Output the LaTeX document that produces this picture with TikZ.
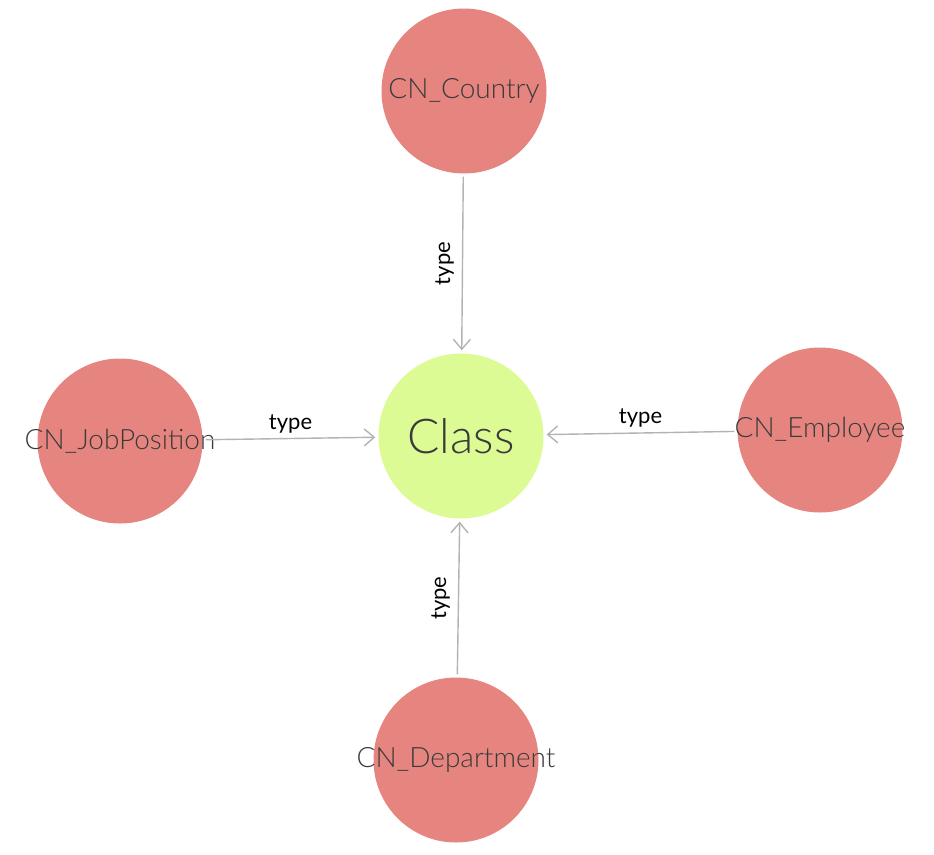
\documentclass[tikz,border=0pt]{standalone}
\usepackage{fontspec}
\setmainfont{Lato Light}
\newfontfamily\lblfont{Lato}
\usetikzlibrary{arrows.meta}

\newcommand{\nodetext}[1]{\makebox[0pt]{#1}}

\begin{document}
\begin{tikzpicture}[x=1pt,y=-1pt,
    cls/.style={circle,fill=classcolor,minimum size=165pt,inner sep=0pt,
      text=textcolor,font=\fontsize{48}{52}\selectfont},
    inst/.style={circle,fill=instcolor,minimum size=165pt,inner sep=0pt,
      text=textcolor,font=\fontsize{28}{32}\selectfont},
    edge/.style={draw=edgecolor,line width=1.4pt,shorten <=3pt,shorten >=3pt,
      -{Straight Barb[length=10pt,width=17pt,line width=1.4pt]}},
    lbl/.style={font=\lblfont\fontsize{22}{26}\selectfont,text=black,inner sep=5pt}]

    \definecolor{instcolor}{HTML}{E6857F}
    \definecolor{classcolor}{HTML}{DDFB95}
    \definecolor{textcolor}{HTML}{3A3A3A}
    \definecolor{edgecolor}{HTML}{B3B3B3}

    \useasboundingbox (0,0) rectangle (934,854);

    \node[cls] (class) at (461,436) {\nodetext{Class}};

    \node[inst] (country) at (464,91) {\nodetext{CN\_Country}};
    \node[inst] (jobposition) at (120,441) {\nodetext{CN\_JobPosition}};
    \node[inst] (employee) at (820,430) {\nodetext{CN\_Employee}};
    \node[inst] (department) at (456,760) {\nodetext{CN\_Department}};

    \draw[edge] (country) -- node[lbl,rotate=90,anchor=south,inner sep=8pt] {type} (class);
    \draw[edge] (department) -- node[lbl,rotate=90,anchor=south,inner sep=8pt] {type} (class);
    \draw[edge] (jobposition) -- node[lbl,anchor=south] {type} (class);
    \draw[edge] (employee) -- node[lbl,anchor=south] {type} (class);

\end{tikzpicture}
\end{document}
